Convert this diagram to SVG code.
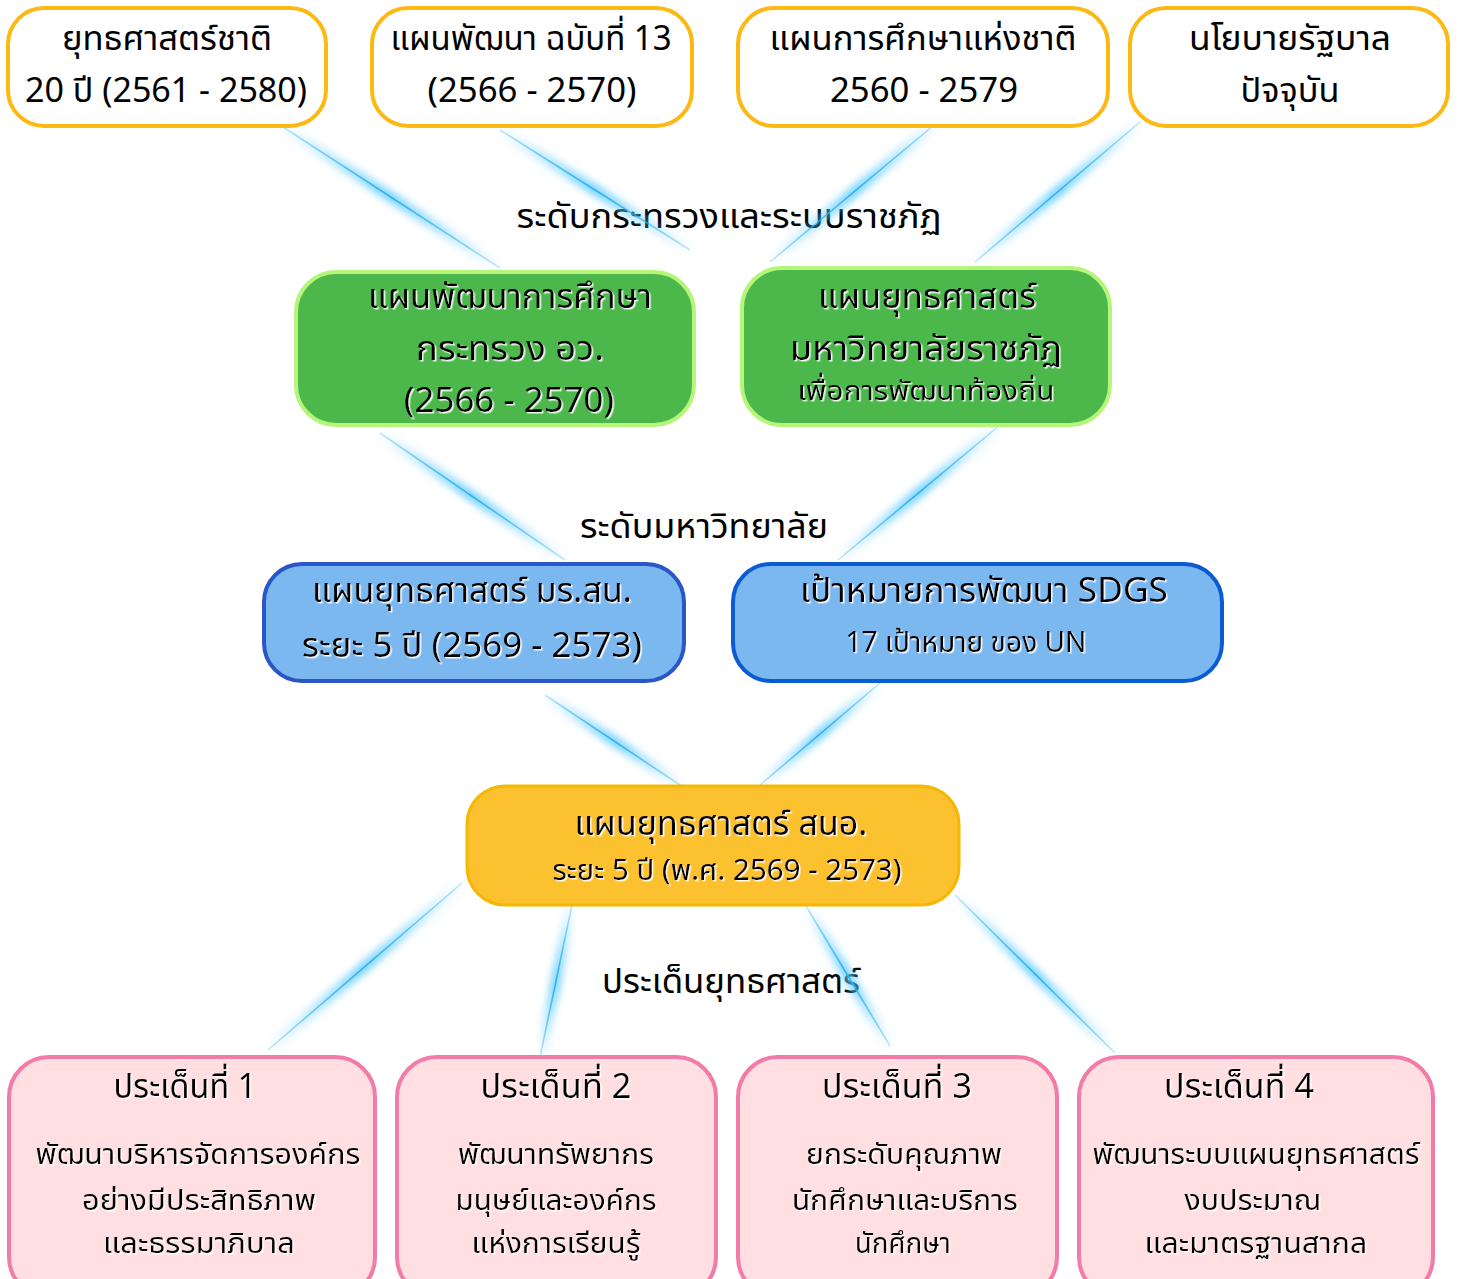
<svg xmlns="http://www.w3.org/2000/svg" width="1458" height="1279" viewBox="0 0 1458 1279">
<defs>
<style>
text{font-family:"Noto Sans Thai","Noto Sans","DejaVu Sans",sans-serif;fill:#000;text-anchor:middle}
.t32{font-size:34px}
.t27{font-size:29px}
.t25{font-size:27px}
.sh{filter:url(#tsh)}
.top{fill:#fff;stroke:#FDB913;stroke-width:4}
.grn{fill:#4CB84B;stroke:#B5F57A;stroke-width:4}
.blu{fill:#7BB8F0;stroke-width:4}
.org{fill:#FBC12E;stroke:#F6B700;stroke-width:3}
.pnk{fill:#FFDFE2;stroke:#F27BA8;stroke-width:4}
.glowA{stroke:url(#gA);stroke-width:11;fill:none;filter:url(#blur)}
.glowB{stroke:url(#gB);stroke-width:11;fill:none;filter:url(#blur)}
.coreA{stroke:url(#cA);stroke-width:1.6;fill:none}
.coreB{stroke:url(#cB);stroke-width:1.6;fill:none}
</style>
<filter id="blur" x="-20%" y="-20%" width="140%" height="140%"><feGaussianBlur stdDeviation="3.5"/></filter>
<filter id="tsh" x="-5%" y="-10%" width="110%" height="130%"><feDropShadow dx="1.5" dy="1.5" stdDeviation="0.3" flood-color="#fff" flood-opacity="0.9"/></filter>
<linearGradient id="gA" x1="0" y1="0" x2="1" y2="1"><stop offset="0" stop-color="#5DCBFF" stop-opacity="0"/><stop offset="0.5" stop-color="#5DCBFF" stop-opacity="0.8"/><stop offset="1" stop-color="#5DCBFF" stop-opacity="0"/></linearGradient>
<linearGradient id="gB" x1="1" y1="0" x2="0" y2="1"><stop offset="0" stop-color="#5DCBFF" stop-opacity="0"/><stop offset="0.5" stop-color="#5DCBFF" stop-opacity="0.8"/><stop offset="1" stop-color="#5DCBFF" stop-opacity="0"/></linearGradient>
<linearGradient id="cA" x1="0" y1="0" x2="1" y2="1"><stop offset="0" stop-color="#2FB0F0" stop-opacity="0.3"/><stop offset="0.5" stop-color="#2FB0F0" stop-opacity="1"/><stop offset="1" stop-color="#2FB0F0" stop-opacity="0.3"/></linearGradient>
<linearGradient id="cB" x1="1" y1="0" x2="0" y2="1"><stop offset="0" stop-color="#2FB0F0" stop-opacity="0.3"/><stop offset="0.5" stop-color="#2FB0F0" stop-opacity="1"/><stop offset="1" stop-color="#2FB0F0" stop-opacity="0.3"/></linearGradient>
</defs>
<rect width="1458" height="1279" fill="#fff"/>

<g id="labels">
<text class="t32" x="729" y="228" textLength="425" lengthAdjust="spacingAndGlyphs">ระดับกระทรวงและระบบราชภัฏ</text>
<text class="t32" x="704" y="538" textLength="248" lengthAdjust="spacingAndGlyphs">ระดับมหาวิทยาลัย</text>
<text class="t32" x="731" y="993" textLength="258" lengthAdjust="spacingAndGlyphs">ประเด็นยุทธศาสตร์</text>
</g>

<g id="connectors">
<line class="glowA" x1="280" y1="125" x2="500" y2="268"/><line class="coreA" x1="280" y1="125" x2="500" y2="268"/>
<line class="glowA" x1="500" y1="130" x2="690" y2="250"/><line class="coreA" x1="500" y1="130" x2="690" y2="250"/>
<line class="glowB" x1="940" y1="120" x2="770" y2="262"/><line class="coreB" x1="940" y1="120" x2="770" y2="262"/>
<line class="glowB" x1="1140" y1="122" x2="975" y2="262"/><line class="coreB" x1="1140" y1="122" x2="975" y2="262"/>
<line class="glowA" x1="380" y1="433" x2="565" y2="560"/><line class="coreA" x1="380" y1="433" x2="565" y2="560"/>
<line class="glowB" x1="1000" y1="425" x2="838" y2="560"/><line class="coreB" x1="1000" y1="425" x2="838" y2="560"/>
<line class="glowA" x1="545" y1="695" x2="683" y2="787"/><line class="coreA" x1="545" y1="695" x2="683" y2="787"/>
<line class="glowB" x1="880" y1="683" x2="760" y2="785"/><line class="coreB" x1="880" y1="683" x2="760" y2="785"/>
<line class="glowB" x1="462" y1="883" x2="268" y2="1050"/><line class="coreB" x1="462" y1="883" x2="268" y2="1050"/>
<line class="glowB" x1="572" y1="905" x2="540" y2="1057"/><line class="coreB" x1="572" y1="905" x2="540" y2="1057"/>
<line class="glowA" x1="806" y1="906" x2="890" y2="1046"/><line class="coreA" x1="806" y1="906" x2="890" y2="1046"/>
<line class="glowA" x1="955" y1="895" x2="1115" y2="1053"/><line class="coreA" x1="955" y1="895" x2="1115" y2="1053"/>
</g>

<g id="top1"><rect class="top" x="8" y="8" width="318" height="118" rx="36"/>
<text class="t32" x="167" y="50" textLength="210" lengthAdjust="spacingAndGlyphs">ยุทธศาสตร์ชาติ</text>
<text class="t32" x="166" y="102" textLength="282" lengthAdjust="spacingAndGlyphs">20 ปี (2561 - 2580)</text></g>
<g id="top2"><rect class="top" x="372" y="8" width="320" height="118" rx="36"/>
<text class="t32" x="531" y="50" textLength="281" lengthAdjust="spacingAndGlyphs">แผนพัฒนา ฉบับที่ 13</text>
<text class="t32" x="532" y="102" textLength="209" lengthAdjust="spacingAndGlyphs">(2566 - 2570)</text></g>
<g id="top3"><rect class="top" x="738" y="8" width="370" height="118" rx="36"/>
<text class="t32" x="923" y="50" textLength="307" lengthAdjust="spacingAndGlyphs">แผนการศึกษาแห่งชาติ</text>
<text class="t32" x="924" y="102" textLength="188" lengthAdjust="spacingAndGlyphs">2560 - 2579</text></g>
<g id="top4"><rect class="top" x="1130" y="8" width="318" height="118" rx="36"/>
<text class="t32" x="1290" y="50" textLength="202" lengthAdjust="spacingAndGlyphs">นโยบายรัฐบาล</text>
<text class="t32" x="1290" y="102" textLength="99" lengthAdjust="spacingAndGlyphs">ปัจจุบัน</text></g>

<g id="green1"><rect class="grn" x="296" y="272" width="398" height="153" rx="40"/>
<text class="t32 sh" x="510" y="308" textLength="284" lengthAdjust="spacingAndGlyphs">แผนพัฒนาการศึกษา</text>
<text class="t32 sh" x="510" y="360" textLength="188" lengthAdjust="spacingAndGlyphs">กระทรวง อว.</text>
<text class="t32 sh" x="509" y="412" textLength="210" lengthAdjust="spacingAndGlyphs">(2566 - 2570)</text></g>
<g id="green2"><rect class="grn" x="742" y="268" width="368" height="157" rx="40"/>
<text class="t32 sh" x="927" y="308" textLength="218" lengthAdjust="spacingAndGlyphs">แผนยุทธศาสตร์</text>
<text class="t32 sh" x="926" y="360" textLength="272" lengthAdjust="spacingAndGlyphs">มหาวิทยาลัยราชภัฏ</text>
<text class="t25 sh" x="926" y="400" textLength="257" lengthAdjust="spacingAndGlyphs">เพื่อการพัฒนาท้องถิ่น</text></g>

<g id="blue1"><rect class="blu" stroke="#2A56C6" x="264" y="564" width="420" height="117" rx="38"/>
<text class="t32 sh" x="472" y="602" textLength="320" lengthAdjust="spacingAndGlyphs">แผนยุทธศาสตร์ มร.สน.</text>
<text class="t32 sh" x="472" y="657" textLength="340" lengthAdjust="spacingAndGlyphs">ระยะ 5 ปี (2569 - 2573)</text></g>
<g id="blue2"><rect class="blu" stroke="#0B5BD3" x="733" y="564" width="489" height="117" rx="38"/>
<text class="t32 sh" x="984" y="602" textLength="368" lengthAdjust="spacingAndGlyphs">เป้าหมายการพัฒนา SDGS</text>
<text class="t27 sh" x="966" y="652" textLength="241" lengthAdjust="spacingAndGlyphs">17 เป้าหมาย ของ UN</text></g>

<g id="orange"><rect class="org" x="467" y="786" width="492" height="119" rx="38"/>
<text class="t32 sh" x="721" y="835" textLength="293" lengthAdjust="spacingAndGlyphs">แผนยุทธศาสตร์ สนอ.</text>
<text class="t27 sh" x="727" y="880" textLength="349" lengthAdjust="spacingAndGlyphs">ระยะ 5 ปี (พ.ศ. 2569 - 2573)</text></g>

<g id="issue1"><rect class="pnk" x="9" y="1057" width="366" height="240" rx="40"/>
<text class="t32 sh" x="185" y="1098" textLength="143" lengthAdjust="spacingAndGlyphs">ประเด็นที่ 1</text>
<text class="t27 sh" x="198" y="1164" textLength="325" lengthAdjust="spacingAndGlyphs">พัฒนาบริหารจัดการองค์กร</text>
<text class="t27 sh" x="199" y="1210" textLength="234" lengthAdjust="spacingAndGlyphs">อย่างมีประสิทธิภาพ</text>
<text class="t27 sh" x="199" y="1253" textLength="192" lengthAdjust="spacingAndGlyphs">และธรรมาภิบาล</text></g>
<g id="issue2"><rect class="pnk" x="397" y="1057" width="319" height="240" rx="40"/>
<text class="t32 sh" x="556" y="1098" textLength="151" lengthAdjust="spacingAndGlyphs">ประเด็นที่ 2</text>
<text class="t27 sh" x="556" y="1164" textLength="196" lengthAdjust="spacingAndGlyphs">พัฒนาทรัพยากร</text>
<text class="t27 sh" x="556" y="1210" textLength="201" lengthAdjust="spacingAndGlyphs">มนุษย์และองค์กร</text>
<text class="t27 sh" x="556" y="1253" textLength="169" lengthAdjust="spacingAndGlyphs">แห่งการเรียนรู้</text></g>
<g id="issue3"><rect class="pnk" x="738" y="1057" width="319" height="240" rx="40"/>
<text class="t32 sh" x="897" y="1098" textLength="150" lengthAdjust="spacingAndGlyphs">ประเด็นที่ 3</text>
<text class="t27 sh" x="904" y="1164" textLength="196" lengthAdjust="spacingAndGlyphs">ยกระดับคุณภาพ</text>
<text class="t27 sh" x="905" y="1210" textLength="226" lengthAdjust="spacingAndGlyphs">นักศึกษาและบริการ</text>
<text class="t27 sh" x="903" y="1253" textLength="96" lengthAdjust="spacingAndGlyphs">นักศึกษา</text></g>
<g id="issue4"><rect class="pnk" x="1079" y="1057" width="354" height="240" rx="40"/>
<text class="t32 sh" x="1239" y="1098" textLength="150" lengthAdjust="spacingAndGlyphs">ประเด็นที่ 4</text>
<text class="t27 sh" x="1256" y="1164" textLength="327" lengthAdjust="spacingAndGlyphs">พัฒนาระบบแผนยุทธศาสตร์</text>
<text class="t27 sh" x="1253" y="1210" textLength="137" lengthAdjust="spacingAndGlyphs">งบประมาณ</text>
<text class="t27 sh" x="1256" y="1253" textLength="223" lengthAdjust="spacingAndGlyphs">และมาตรฐานสากล</text></g>
</svg>
